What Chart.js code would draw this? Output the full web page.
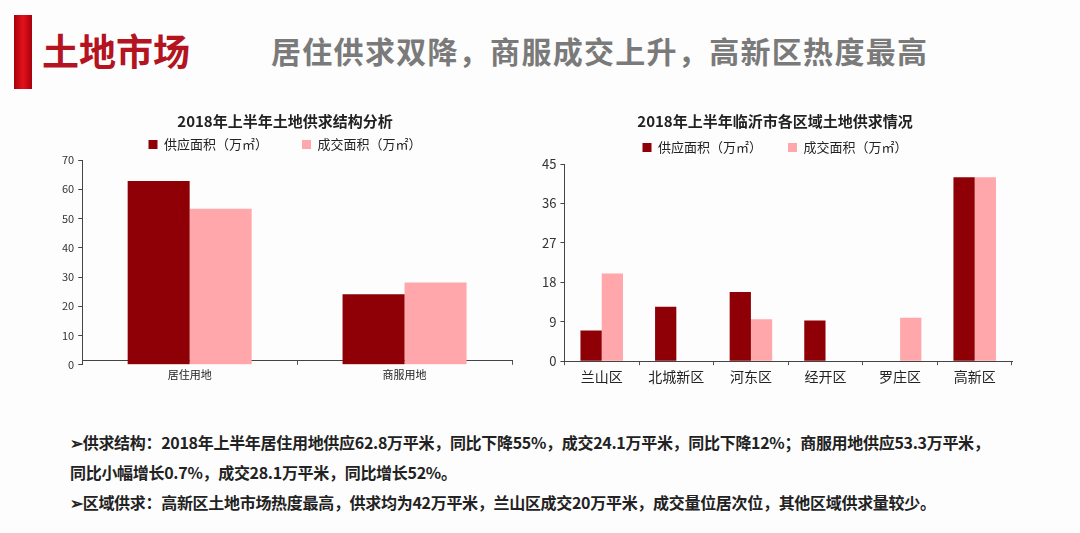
<!DOCTYPE html>
<html lang="zh-CN">
<head>
<meta charset="utf-8">
<title>土地市场</title>
<script src="https://cdn.jsdelivr.net/npm/chart.js@4.4.1/dist/chart.umd.min.js"></script>
<style>
    html, body { margin: 0; padding: 0; }
    body {
        width: 1080px; height: 533px; position: relative; overflow: hidden;
        background: #fdfdfd;
        font-family: "Noto Sans CJK SC", "Noto Sans", sans-serif;
    }
    .red-mark {
        position: absolute; left: 14px; top: 15px; width: 18px; height: 74px;
        background: linear-gradient(90deg, #a8000a, #e2121c 50%, #a8000a);
    }
    .page-title {
        position: absolute; left: 42px; top: 25px; line-height: 50px;
        font-size: 37px; font-weight: 700; color: #b3141f;
    }
    .page-sub {
        position: absolute; left: 271px; top: 29px; line-height: 42px;
        font-size: 30px; font-weight: 700; color: #7a7a7a; letter-spacing: 1.3px;
    }
    .chart-box { position: absolute; top: 108px; height: 290px; }
    #box-land { left: 30px; width: 490px; }
    #box-dist { left: 522px; width: 500px; }
    .notes {
        position: absolute; left: 70px; top: 427px;
        font-size: 16px; font-weight: 700; color: #222; line-height: 30px;
        letter-spacing: -0.3px;
    }
    .notes div { white-space: nowrap; }
</style>
</head>
<body>
    <div class="red-mark"></div>
    <div class="page-title">土地市场</div>
    <div class="page-sub">居住供求双降，商服成交上升，高新区热度最高</div>

    <div class="chart-box" id="box-land"><canvas id="chart-land"></canvas></div>
    <div class="chart-box" id="box-dist"><canvas id="chart-dist"></canvas></div>

    <div class="notes">
        <div>➢供求结构：2018年上半年居住用地供应62.8万平米，同比下降55%，成交24.1万平米，同比下降12%；商服用地供应53.3万平米，</div>
        <div>同比小幅增长0.7%，成交28.1万平米，同比增长52%。</div>
        <div>➢区域供求：高新区土地市场热度最高，供求均为42万平米，兰山区成交20万平米，成交量位居次位，其他区域供求量较少。</div>
    </div>

<script>
// 土地供求结构（万㎡）
const landTypes = ['居住用地', '商服用地'];
const landSupply = [62.8, 24.1];
const landDeal = [53.3, 28.1];

// 各区域土地供求（万㎡）
const districts = ['兰山区', '北城新区', '河东区', '经开区', '罗庄区', '高新区'];
const districtSupply = [7, 12.4, 15.8, 9.3, 0, 42];
const districtDeal = [20, 0, 9.6, 0, 9.9, 42];

const seriesNames = ['供应面积（万㎡）', '成交面积（万㎡）'];

const SUPPLY_COLOR = '#8e0005';
const DEAL_COLOR = '#ffa7aa';
const FONT = '"Noto Sans CJK SC", "Noto Sans", sans-serif';

Chart.defaults.font.family = FONT;
Chart.defaults.color = '#333';
Chart.defaults.animation = false;

// 缩短图例占用的高度，让绘图区往上靠
const legendTrim = {
    id: 'legendTrim',
    beforeInit(chart, args, opts) {
        const legend = chart.legend;
        if (!legend || !opts.trim) return;
        const origFit = legend.fit;
        legend.fit = function () {
            origFit.call(this);
            this.height -= opts.trim;
        };
    }
};

// legend padding also pushes the items down, so the title's bottom padding pulls them back up
function buildOptions(title, titleGap, trim, yMax, yStep, tickSize, xTickSize, legendGap, pad) {
    return {
        responsive: true,
        maintainAspectRatio: false,
        layout: { padding: pad },
        plugins: {
            title: {
                display: true,
                text: title,
                color: '#222',
                font: { size: 15, weight: 'bold' },
                padding: { top: 4, bottom: titleGap }
            },
            legend: {
                display: true,
                labels: {
                    boxWidth: 9,
                    boxHeight: 9,
                    padding: legendGap,
                    color: '#222',
                    font: { size: 13 }
                }
            },
            legendTrim: { trim: trim },
            tooltip: { enabled: false }
        },
        scales: {
            x: {
                grid: { display: true, drawOnChartArea: false, tickLength: 4, color: '#555' },
                border: { color: '#444', width: 1 },
                ticks: { font: { size: xTickSize }, color: '#222' }
            },
            y: {
                min: 0,
                max: yMax,
                grid: { display: true, drawOnChartArea: false, tickLength: 4, color: '#444' },
                border: { color: '#444', width: 1 },
                ticks: { stepSize: yStep, font: { size: tickSize }, color: '#333', padding: 4 }
            }
        }
    };
}

function buildDatasets(supply, deal, catPct) {
    return [
        {
            label: seriesNames[0],
            data: supply,
            backgroundColor: SUPPLY_COLOR,
            borderWidth: 0,
            barPercentage: 1,
            categoryPercentage: catPct
        },
        {
            label: seriesNames[1],
            data: deal,
            backgroundColor: DEAL_COLOR,
            borderWidth: 0,
            barPercentage: 1,
            categoryPercentage: catPct
        }
    ];
}

new Chart(document.getElementById('chart-land'), {
    type: 'bar',
    data: { labels: landTypes, datasets: buildDatasets(landSupply, landDeal, 0.577) },
    options: buildOptions('2018年上半年土地供求结构分析', -26, 5, 70, 10, 11, 11, 34,
        { left: 28, right: 8, top: 0, bottom: 10 }),
    plugins: [legendTrim]
});

new Chart(document.getElementById('chart-dist'), {
    type: 'bar',
    data: { labels: districts, datasets: buildDatasets(districtSupply, districtDeal, 0.57) },
    options: buildOptions('2018年上半年临沂市各区域土地供求情况', -15, 0, 45, 9, 13, 14, 26,
        { left: 16, right: 10, top: 0, bottom: 10 }),
    plugins: [legendTrim]
});
</script>
</body>
</html>
